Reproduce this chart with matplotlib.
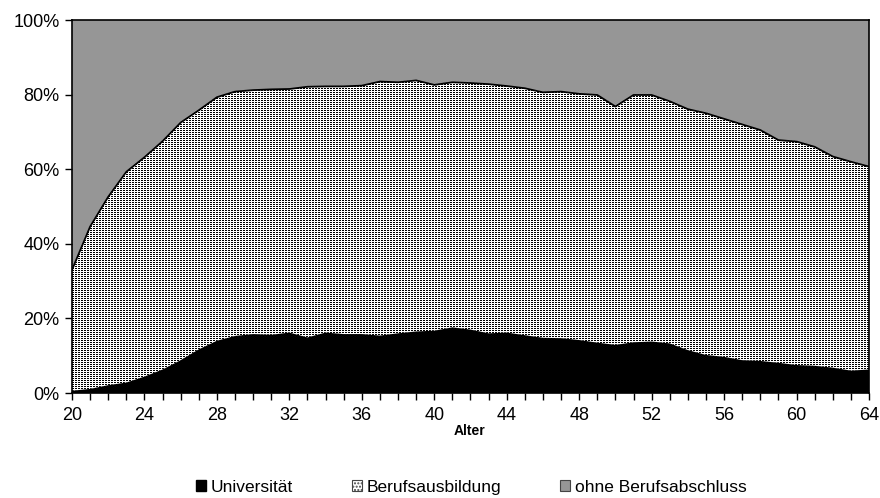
import numpy as np
import matplotlib
matplotlib.use("Agg")
import matplotlib.pyplot as plt
from matplotlib.patches import Patch
from matplotlib.ticker import MultipleLocator, FuncFormatter

plt.rcParams['font.family'] = ['Liberation Sans', 'DejaVu Sans']

ages = list(range(20, 65))
universitaet = [0.6, 1.1, 2.1, 2.8, 4.4, 6.3, 8.8, 11.7, 14.0, 15.3, 15.8, 15.6, 16.2, 14.9, 16.2,
                15.8, 15.8, 15.4, 16.0, 16.5, 16.7, 17.6, 17.0, 16.0, 16.2, 15.5, 14.8, 14.7, 14.2, 13.5,
                12.9, 13.6, 13.8, 13.3, 11.5, 10.2, 9.7, 8.8, 8.6, 8.1, 7.5, 7.3, 6.8, 6.0, 6.3]
berufsausbildung = [32.4, 43.5, 50.5, 56.5, 58.8, 61.2, 63.7, 64.1, 65.3, 65.5, 65.4, 65.8, 65.3, 67.2, 66.0,
                    66.4, 66.6, 68.1, 67.3, 67.3, 65.9, 65.7, 66.1, 66.8, 66.1, 66.2, 65.8, 66.1, 66.0, 66.4,
                    63.9, 66.3, 66.1, 64.9, 64.6, 64.8, 63.8, 63.2, 61.9, 59.7, 59.9, 58.7, 56.6, 56.0, 54.4]
ohne = [67.0, 55.4, 47.4, 40.7, 36.8, 32.5, 27.5, 24.2, 20.7, 19.2, 18.8, 18.6, 18.5, 17.9, 17.8,
        17.8, 17.6, 16.5, 16.7, 16.2, 17.4, 16.7, 16.9, 17.2, 17.7, 18.3, 19.4, 19.2, 19.8, 20.1,
        23.2, 20.1, 20.1, 21.8, 23.9, 25.0, 26.5, 28.0, 29.5, 32.2, 32.6, 34.0, 36.6, 38.0, 39.3]
labels = ["Universität", "Berufsausbildung", "ohne Berufsabschluss"]

W, H = 880, 498
fig = plt.figure(figsize=(W / 100, H / 100), dpi=100)
L, R, T, B = 72, 869, 20, 393
ax = fig.add_axes([L / W, 1 - B / H, (R - L) / W, (B - T) / H])

x = np.array(ages)
s1 = np.array(universitaet)
s2 = s1 + np.array(berufsausbildung)
s3 = s2 + np.array(ohne)

ax.fill_between(x, 0, s1, facecolor='black', edgecolor='none', zorder=2)
poly = ax.fill_between(x, s1, s2, facecolor='white', edgecolor='none', zorder=1)
ax.fill_between(x, s2, s3, facecolor='#969696', edgecolor='none', zorder=1)

# stipple pattern for Berufsausbildung
aw, ah = R - L, B - T
tile = np.array([[1, 1, 0],
                 [0, 0, 0]])
pat = np.tile(tile, (ah // 2 + 1, aw // 3 + 1))[:ah, :aw]
im = ax.imshow(pat, cmap='gray_r', vmin=0, vmax=1, extent=[20, 64, 0, 100],
               aspect='auto', interpolation='nearest', zorder=1.5, origin='upper')
im.set_clip_path(poly.get_paths()[0], ax.transData)

ax.plot(x, s2, color='black', lw=1.3, zorder=3)

ax.set_xlim(20, 64)
ax.set_ylim(0, 100)
ax.xaxis.set_major_locator(MultipleLocator(4))
ax.xaxis.set_minor_locator(MultipleLocator(1))
ax.yaxis.set_major_locator(MultipleLocator(20))
ax.yaxis.set_major_formatter(FuncFormatter(lambda v, p: f"{int(round(v))}%"))
ax.tick_params(axis='both', which='both', direction='out', length=5, width=1, labelsize=13, colors='black')
ax.tick_params(axis='x', which='major', pad=5)
ax.tick_params(axis='y', which='major', pad=4)
for sp in ax.spines.values():
    sp.set_linewidth(1.2)
    sp.set_zorder(4)

fig.text(470 / W, 1 - 431 / H, "Alter", fontsize=10, fontweight='bold', ha='center', va='center')

handles = [Patch(facecolor='black', edgecolor='black'),
           Patch(facecolor='white', edgecolor='#444444', hatch='.....', lw=0.8),
           Patch(facecolor='#969696', edgecolor='#444444', lw=0.8)]
fig.legend(handles, labels, loc='center', bbox_to_anchor=(471 / W, 1 - 487 / H), ncol=3,
           frameon=False, fontsize=12.5, handlelength=0.6, handleheight=0.6,
           handletextpad=0.25, columnspacing=3.4, borderpad=0)

fig.savefig("out.png", dpi=100)
